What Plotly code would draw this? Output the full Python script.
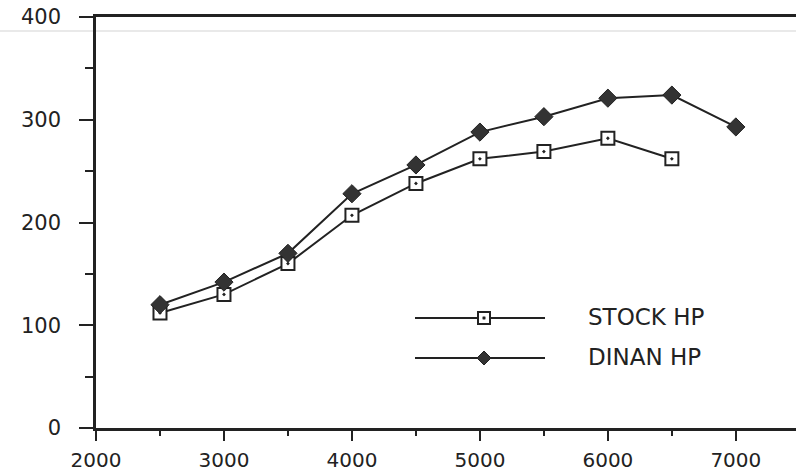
import plotly.graph_objects as go

# ---- data ----
rpm_stock = [2500, 3000, 3500, 4000, 4500, 5000, 5500, 6000, 6500]
hp_stock = [112, 130, 160, 207, 238, 262, 269, 282, 262]
rpm_dinan = [2500, 3000, 3500, 4000, 4500, 5000, 5500, 6000, 6500, 7000]
hp_dinan = [120, 142, 170, 228, 256, 288, 303, 321, 324, 293]
series_names = ["STOCK HP", "DINAN HP"]
x_ticks = [2000, 3000, 4000, 5000, 6000, 7000]
y_ticks = [0, 100, 200, 300, 400]

INK = "#222222"
FONT = "DejaVu Sans"

W, H = 796, 472
ML, MR, MT, MB = 96, 0, 17, 44
PW, PH = W - ML - MR, H - MT - MB


def px_x(px):
    return (px - ML) / PW


def px_y(py):
    return (H - MB - py) / PH


fig = go.Figure()
fig.add_trace(go.Scatter(
    x=rpm_stock, y=hp_stock, name=series_names[0], mode="lines+markers",
    line=dict(color=INK, width=2),
    marker=dict(symbol="square-dot", size=13, color="white",
                line=dict(color=INK, width=2)),
    showlegend=False,
))
fig.add_trace(go.Scatter(
    x=rpm_dinan, y=hp_dinan, name=series_names[1], mode="lines+markers",
    line=dict(color=INK, width=2),
    marker=dict(symbol="diamond", size=14, color="#333333",
                line=dict(color=INK, width=1)),
    showlegend=False,
))

shapes = []
annotations = []
# faint scan line near the top
shapes.append(dict(type="line", xref="paper", yref="paper",
                   x0=px_x(0), x1=px_x(W), y0=px_y(31), y1=px_y(31),
                   line=dict(color="#e2e2e2", width=1.5), layer="below"))

# custom legend (decoration)
leg_rows = [318, 358]
for i, name in enumerate(series_names):
    py = leg_rows[i]
    shapes.append(dict(type="line", xref="paper", yref="paper",
                       x0=px_x(415), x1=px_x(545), y0=px_y(py), y1=px_y(py),
                       line=dict(color=INK, width=2)))
    cx = px_x(484)
    cy = px_y(py)
    if i == 0:
        shapes.append(dict(type="rect", xref="paper", yref="paper",
                           xsizemode="pixel", ysizemode="pixel",
                           xanchor=cx, yanchor=cy,
                           x0=-6, x1=6, y0=-6, y1=6,
                           fillcolor="white", line=dict(color=INK, width=2)))
        shapes.append(dict(type="rect", xref="paper", yref="paper",
                           xsizemode="pixel", ysizemode="pixel",
                           xanchor=cx, yanchor=cy,
                           x0=-1.2, x1=1.2, y0=-1.2, y1=1.2,
                           fillcolor=INK, line=dict(color=INK, width=0.5)))
    else:
        shapes.append(dict(type="path", xref="paper", yref="paper",
                           xsizemode="pixel", ysizemode="pixel",
                           xanchor=cx, yanchor=cy,
                           path="M 0,7 L 7,0 L 0,-7 L -7,0 Z",
                           fillcolor="#333333", line=dict(color=INK, width=1)))
    annotations.append(dict(text=name, xref="paper", yref="paper",
                            x=px_x(586), y=px_y(py - 1), xanchor="left",
                            yanchor="middle", showarrow=False,
                            font=dict(family=FONT, size=23, color=INK)))

fig.update_layout(
    width=W, height=H,
    margin=dict(l=ML, r=MR, t=MT, b=MB, pad=0),
    paper_bgcolor="white", plot_bgcolor="white",
    showlegend=False,
    shapes=shapes, annotations=annotations,
    xaxis=dict(
        range=[2000, 7470], tickvals=x_ticks, ticktext=[str(v) for v in x_ticks],
        showgrid=False, zeroline=False, automargin=False,
        showline=True, linecolor=INK, linewidth=2.5, mirror=True,
        ticks="outside", ticklen=10, tickwidth=2, tickcolor=INK,
        minor=dict(dtick=500, ticks="outside", ticklen=5, tickwidth=2,
                   tickcolor=INK, showgrid=False),
        tickfont=dict(family=FONT, size=20, color=INK),
        ticklabelstandoff=2,
    ),
    yaxis=dict(
        range=[0, 400], tickvals=y_ticks, ticktext=[str(v) for v in y_ticks],
        showgrid=False, zeroline=False, automargin=False,
        showline=True, linecolor=INK, linewidth=2.5, mirror=False,
        ticks="outside", ticklen=14, tickwidth=2, tickcolor=INK,
        minor=dict(dtick=50, ticks="outside", ticklen=8, tickwidth=2,
                   tickcolor=INK, showgrid=False),
        tickfont=dict(family=FONT, size=21, color=INK),
        ticklabelstandoff=14,
    ),
)

fig.write_html(
    "out.html",
    config={"displayModeBar": False},
    post_script="document.body.style.margin='0';document.body.style.overflow='hidden';",
)
